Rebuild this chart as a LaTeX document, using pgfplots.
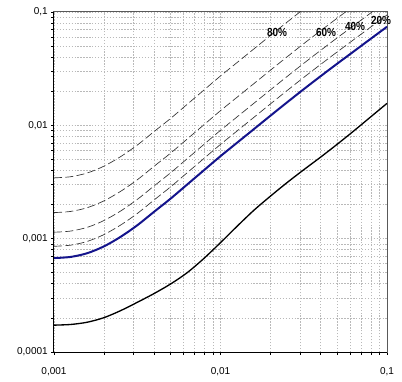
\documentclass[border=0pt]{standalone}
\usepackage{pgfplots}
\pgfplotsset{compat=1.18}
\usepackage{fontspec}
\setmainfont{Liberation Sans}
\newfontfamily\lblfont[FakeStretch=0.85]{Liberation Sans}
\definecolor{navyblue}{RGB}{20,20,140}
\begin{document}
\begin{tikzpicture}
\begin{axis}[
  at={(0,0)}, anchor=south west,
  xmode=log, ymode=log,
  scale only axis, width=249.75pt, height=255pt,
  xmin=0.001, xmax=0.1, ymin=0.0001, ymax=0.1,
  xtick={0.001,0.01,0.1}, xticklabels={{0,001},{0,01},{0,1}},
  ytick={0.0001,0.001,0.01,0.1}, yticklabels={{0,0001},{0,001},{0,01},{0,1}},
  grid=both,
  major grid style={draw=gray!55, dash pattern=on 1pt off 1.2pt, line width=0.5pt},
  minor grid style={draw=gray!55, dash pattern=on 1pt off 1.2pt, line width=0.5pt},
  xtick pos=bottom, ytick pos=left,
  tick align=outside, major tick length=2pt, minor tick length=2pt,
  tick style={black, line width=0.5pt},
  axis line style={draw=black!65, line width=0.75pt},
  xticklabel style={font=\fontsize{7.5}{9}\selectfont, anchor=center, yshift=-13pt},
  yticklabel style={font=\fontsize{7.5}{9}\selectfont, anchor=east, inner sep=0pt, xshift=-2.5pt},
  clip mode=individual,
]
% lower black curve
\addplot[black, line width=1pt, smooth] coordinates {
(0.001,1.726e-4) (0.001259,1.750e-4) (0.001585,1.832e-4) (0.001995,2.009e-4)
(0.002512,2.317e-4) (0.003162,2.742e-4) (0.003981,3.273e-4) (0.005012,3.981e-4)
(0.00631,5.012e-4) (0.007943,6.683e-4) (0.01,9.226e-4) (0.01259,1.288e-3)
(0.01585,1.778e-3) (0.01995,2.371e-3) (0.02512,3.126e-3) (0.03162,4.055e-3)
(0.03981,5.224e-3) (0.05012,6.792e-3) (0.0631,8.913e-3) (0.07943,0.01180) (0.1,0.01563)};
% dashed 20%
\addplot[black!80, line width=0.5pt, dash pattern=on 6pt off 2.5pt, smooth] coordinates {
(0.001,8.566e-4) (0.001259,8.766e-4) (0.001585,9.458e-4) (0.001995,1.086e-3)
(0.002512,1.318e-3) (0.003162,1.666e-3) (0.003981,2.187e-3) (0.005012,2.862e-3)
(0.00631,3.817e-3) (0.007943,5.091e-3) (0.01,6.789e-3) (0.01259,8.929e-3)
(0.01585,0.01174) (0.01995,0.01545) (0.02512,0.02026) (0.03162,0.02647)
(0.03981,0.03434) (0.05012,0.04433) (0.0631,0.05700) (0.07943,0.07324) (0.1,0.09415)};
% dashed 40%
\addplot[black!80, line width=0.5pt, dash pattern=on 6pt off 2.5pt, smooth] coordinates {
(0.001,1.140e-3) (0.001259,1.167e-3) (0.001585,1.259e-3) (0.001995,1.445e-3)
(0.002512,1.753e-3) (0.003162,2.218e-3) (0.003981,2.910e-3) (0.005012,3.809e-3)
(0.00631,5.080e-3) (0.007943,6.775e-3) (0.01,9.035e-3) (0.01259,0.01188)
(0.01585,0.01563) (0.01995,0.02055) (0.02512,0.02697) (0.03162,0.03523)
(0.03981,0.04570) (0.05012,0.05901) (0.0631,0.07584) (0.07943,0.09747) (0.1,0.1253)};
% dashed 60%
\addplot[black!80, line width=0.5pt, dash pattern=on 6pt off 2.5pt, smooth] coordinates {
(0.001,1.699e-3) (0.001259,1.739e-3) (0.001585,1.877e-3) (0.001995,2.155e-3)
(0.002512,2.615e-3) (0.003162,3.306e-3) (0.003981,4.339e-3) (0.005012,5.682e-3)
(0.00631,7.574e-3) (0.007943,0.01010) (0.01,0.01347) (0.01259,0.01772)
(0.01585,0.02330) (0.01995,0.03064) (0.02512,0.04021) (0.03162,0.05254)
(0.03981,0.06815) (0.05012,0.08799) (0.0631,0.1131) (0.07943,0.1453)};
% dashed 80%
\addplot[black!80, line width=0.5pt, dash pattern=on 6pt off 2.5pt, smooth] coordinates {
(0.001,3.440e-3) (0.001259,3.520e-3) (0.001585,3.799e-3) (0.001995,4.361e-3)
(0.002512,5.292e-3) (0.003162,6.692e-3) (0.003981,8.783e-3) (0.005012,0.01149)
(0.00631,0.01533) (0.007943,0.02044) (0.01,0.02727) (0.01259,0.03585)
(0.01585,0.04716) (0.01995,0.06203) (0.02512,0.08139) (0.03162,0.1063) (0.03981,0.1379)};
% blue curve
\addplot[navyblue, line width=1.5pt, smooth] coordinates {
(0.001,6.745e-4) (0.001259,6.902e-4) (0.001585,7.447e-4) (0.001995,8.551e-4)
(0.002512,1.038e-3) (0.003162,1.312e-3) (0.003981,1.722e-3) (0.005012,2.254e-3)
(0.00631,3.006e-3) (0.007943,4.009e-3) (0.01,5.346e-3) (0.01259,7.031e-3)
(0.01585,9.247e-3) (0.01995,0.01216) (0.02512,0.01596) (0.03162,0.02084)
(0.03981,0.02704) (0.05012,0.03491) (0.0631,0.04487) (0.07943,0.05768) (0.1,0.07413)};
\draw[black, line width=0.75pt] (rel axis cs:0,1) -- (rel axis cs:0,0) -- (rel axis cs:1,0);
\node[font=\lblfont\bfseries\fontsize{8.8}{10}\selectfont, inner sep=0pt] at (axis cs:0.02184,0.06662) {80\%};
\node[font=\lblfont\bfseries\fontsize{8.8}{10}\selectfont, inner sep=0pt] at (axis cs:0.04301,0.06662) {60\%};
\node[font=\lblfont\bfseries\fontsize{8.8}{10}\selectfont, inner sep=0pt] at (axis cs:0.06424,0.07447) {40\%};
\node[font=\lblfont\bfseries\fontsize{8.8}{10}\selectfont, inner sep=0pt] at (axis cs:0.09204,0.08414) {20\%};
\end{axis}
\pgfresetboundingbox
\path (-40.5pt,-21.75pt) rectangle (261pt,264pt);
\end{tikzpicture}
\end{document}
